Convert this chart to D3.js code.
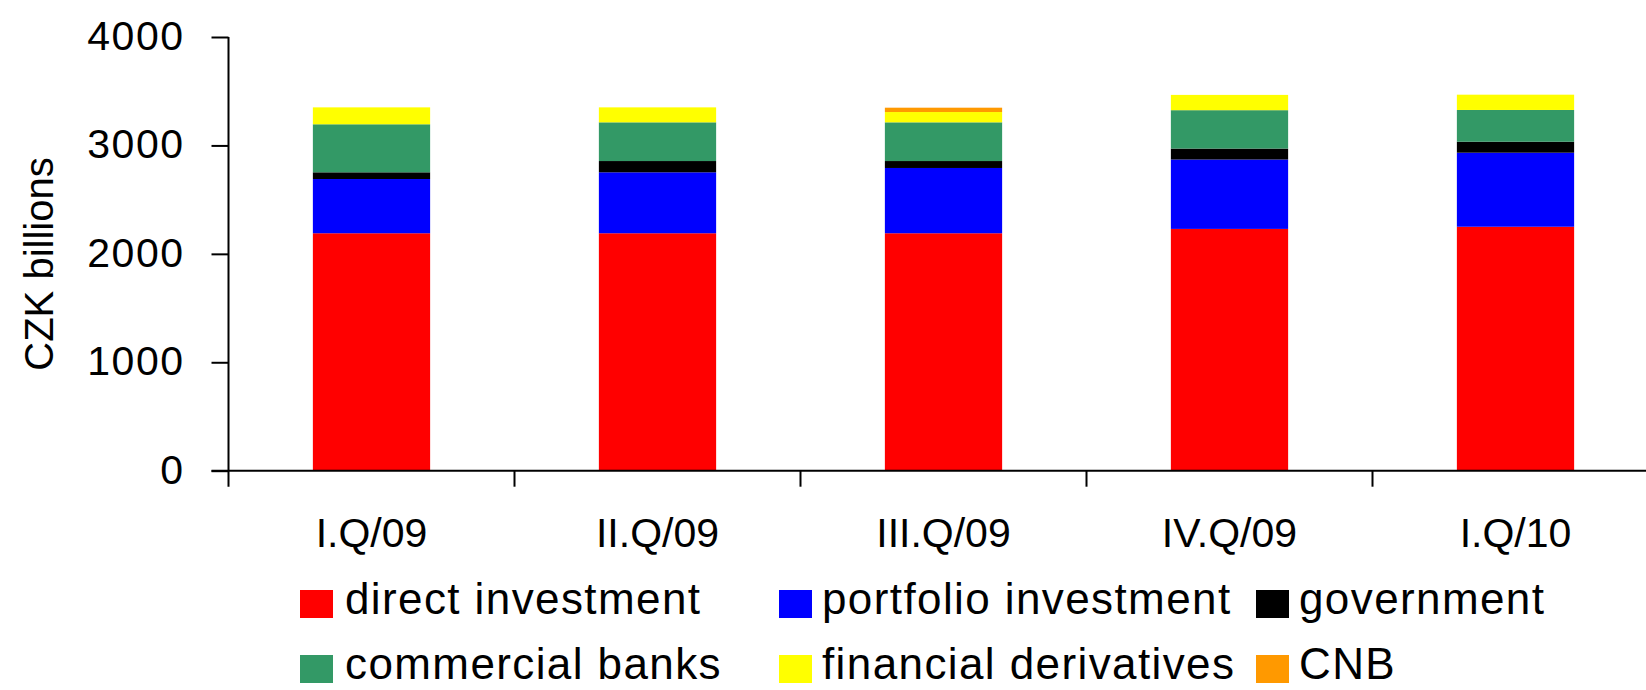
<!DOCTYPE html>
<html>
<head>
<meta charset="utf-8">
<script src="https://cdn.jsdelivr.net/npm/d3@7/dist/d3.min.js"></script>
<style>
  html, body { margin: 0; padding: 0; background: #fff; }
  svg { display: block; font-family: "Liberation Sans", Arial, sans-serif; }
</style>
</head>
<body>
<svg id="chart" width="1646" height="690"></svg>
<script>
// Quarterly external liabilities by sector, CZK billions
const categories = ["I.Q/09", "II.Q/09", "III.Q/09", "IV.Q/09", "I.Q/10"];
const directInvestment     = [2190, 2190, 2190, 2230, 2250];
const portfolioInvestment  = [500, 562, 602, 640, 683];
const government           = [62, 104, 64, 101, 101];
const commercialBanks      = [443, 357, 357, 354, 293];
const financialDerivatives = [156, 138, 95, 141, 141];
const cnb                  = [0, 0, 40, 0, 0];

const seriesNames = ["direct investment", "portfolio investment", "government",
                     "commercial banks", "financial derivatives", "CNB"];
const seriesValues = [directInvestment, portfolioInvestment, government,
                      commercialBanks, financialDerivatives, cnb];
const seriesColors = ["#ff0000", "#0000ff", "#000000", "#339966", "#ffff00", "#ff9900"];
const yTicks = [0, 1000, 2000, 3000, 4000];
const yTitle = "CZK billions";

const rows = categories.map((c, i) => {
  const r = { category: c };
  seriesNames.forEach((s, k) => { r[s] = seriesValues[k][i]; });
  return r;
});

const svg = d3.select("#chart");

const axisX = 228.5;
const step = 286;
const x = d3.scaleBand()
  .domain(categories)
  .range([axisX, axisX + step * categories.length])
  .paddingInner(0.59)
  .paddingOuter(0.295);

const y = d3.scaleLinear().domain([0, 4000]).range([470.7, 37]);

const stacked = d3.stack().keys(seriesNames)(rows);

// stacked bars
svg.append("g")
  .selectAll("g")
  .data(stacked)
  .join("g")
  .attr("fill", (d, i) => seriesColors[i])
  .selectAll("rect")
  .data(d => d)
  .join("rect")
  .attr("x", d => x(d.data.category))
  .attr("width", x.bandwidth())
  .attr("y", d => y(d[1]))
  .attr("height", d => Math.max(0, y(d[0]) - y(d[1])));

// y axis
const yAxis = svg.append("g")
  .attr("transform", `translate(${axisX},0)`)
  .call(d3.axisLeft(y).tickValues(yTicks).tickFormat(d3.format("d")).tickSize(17).tickPadding(27));
yAxis.select(".domain").remove();
yAxis.selectAll(".tick line").attr("stroke", "#000").attr("stroke-width", 2);
yAxis.selectAll(".tick text")
  .attr("fill", "#000")
  .attr("dy", "0.3em")
  .style("font-size", "41px")
  .style("letter-spacing", "1.5px");
svg.append("line")
  .attr("x1", axisX).attr("x2", axisX)
  .attr("y1", y(4000)).attr("y2", y(0) + 16)
  .attr("stroke", "#000").attr("stroke-width", 2);

// x axis: baseline with ticks at category boundaries
const halfGap = x.step() * x.paddingOuter();
svg.append("line")
  .attr("x1", axisX - 17).attr("x2", 1646)
  .attr("y1", y(0)).attr("y2", y(0))
  .attr("stroke", "#000").attr("stroke-width", 2);
svg.append("g")
  .selectAll("line")
  .data(categories.slice(1))
  .join("line")
  .attr("x1", d => x(d) - halfGap).attr("x2", d => x(d) - halfGap)
  .attr("y1", y(0)).attr("y2", y(0) + 16)
  .attr("stroke", "#000").attr("stroke-width", 2);
svg.append("g")
  .selectAll("text")
  .data(categories)
  .join("text")
  .attr("x", d => x(d) + x.bandwidth() / 2)
  .attr("y", 547)
  .attr("text-anchor", "middle")
  .style("font-size", "41px")
  .text(d => d);

// y axis title
svg.append("text")
  .attr("transform", "translate(53,264) rotate(-90)")
  .attr("text-anchor", "middle")
  .style("font-size", "40px")
  .text(yTitle);

// legend, two rows of three
const legendCols = [300, 779, 1256];
const legendRows = [614, 679];
const legend = svg.append("g")
  .selectAll("g")
  .data(seriesNames)
  .join("g")
  .attr("transform", (d, i) => `translate(${legendCols[i % 3]},${legendRows[Math.floor(i / 3)]})`);
legend.append("rect")
  .attr("x", 0).attr("y", -24)
  .attr("width", 33).attr("height", 28)
  .attr("fill", (d, i) => seriesColors[i]);
legend.append("text")
  .attr("x", (d, i) => (i % 3 === 0 ? 45 : 43))
  .attr("y", 0)
  .style("font-size", "44px")
  .style("letter-spacing", "1.4px")
  .text(d => d);
</script>
</body>
</html>
